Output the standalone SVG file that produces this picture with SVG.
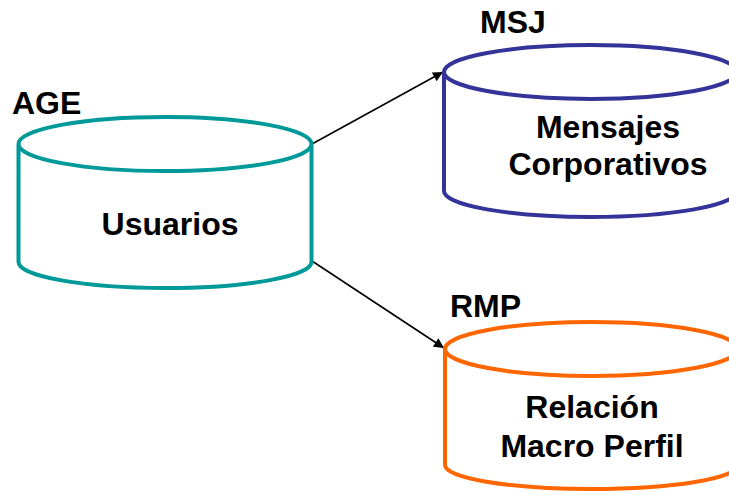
<svg xmlns="http://www.w3.org/2000/svg" width="729" height="492" viewBox="0 0 729 492">
<defs>
<style>
.cyl{fill:#ffffff;stroke-width:4}
.lbl{font-family:"Liberation Sans",Arial,sans-serif;font-weight:bold;font-size:32px;fill:#000}
.mid{text-anchor:middle}
.conn{stroke:#000;stroke-width:1.6;fill:none}
</style>
<marker id="ah" viewBox="0 0 10 10" refX="10" refY="5" markerWidth="11" markerHeight="10" orient="auto" markerUnits="userSpaceOnUse">
<path d="M0,0 L10,5 L0,10 z" fill="#000"/>
</marker>
</defs>
<rect width="729" height="492" fill="#ffffff"/>
<g id="connectors">
<line class="conn" x1="312" y1="144" x2="443" y2="72" marker-end="url(#ah)"/>
<line class="conn" x1="312" y1="261" x2="444" y2="348" marker-end="url(#ah)"/>
</g>
<g id="AGE">
<path class="cyl" stroke="#009999" d="M18.5,144 A146.5,27 0 0 1 311.5,144 L311.5,262 A146.5,26 0 0 1 18.5,262 Z M18.5,144 A146.5,27 0 0 0 311.5,144"/>
<text class="lbl" x="12" y="114">AGE</text>
<text class="lbl mid" x="170" y="235">Usuarios</text>
</g>
<g id="MSJ">
<path class="cyl" stroke="#333399" d="M444,72 A146.5,27 0 0 1 737,72 L737,191 A146.5,26 0 0 1 444,191 Z M444,72 A146.5,27 0 0 0 737,72"/>
<text class="lbl" x="480" y="33">MSJ</text>
<text class="lbl mid" x="608" y="138">Mensajes</text>
<text class="lbl mid" x="608" y="175">Corporativos</text>
</g>
<g id="RMP">
<path class="cyl" stroke="#FF6600" d="M445,349 A146.5,27 0 0 1 738,349 L738,465 A146.5,24 0 0 1 445,465 Z M445,349 A146.5,27 0 0 0 738,349"/>
<text class="lbl" x="450" y="317">RMP</text>
<text class="lbl mid" x="592" y="418">Relación</text>
<text class="lbl mid" x="592" y="457">Macro Perfil</text>
</g>
</svg>
